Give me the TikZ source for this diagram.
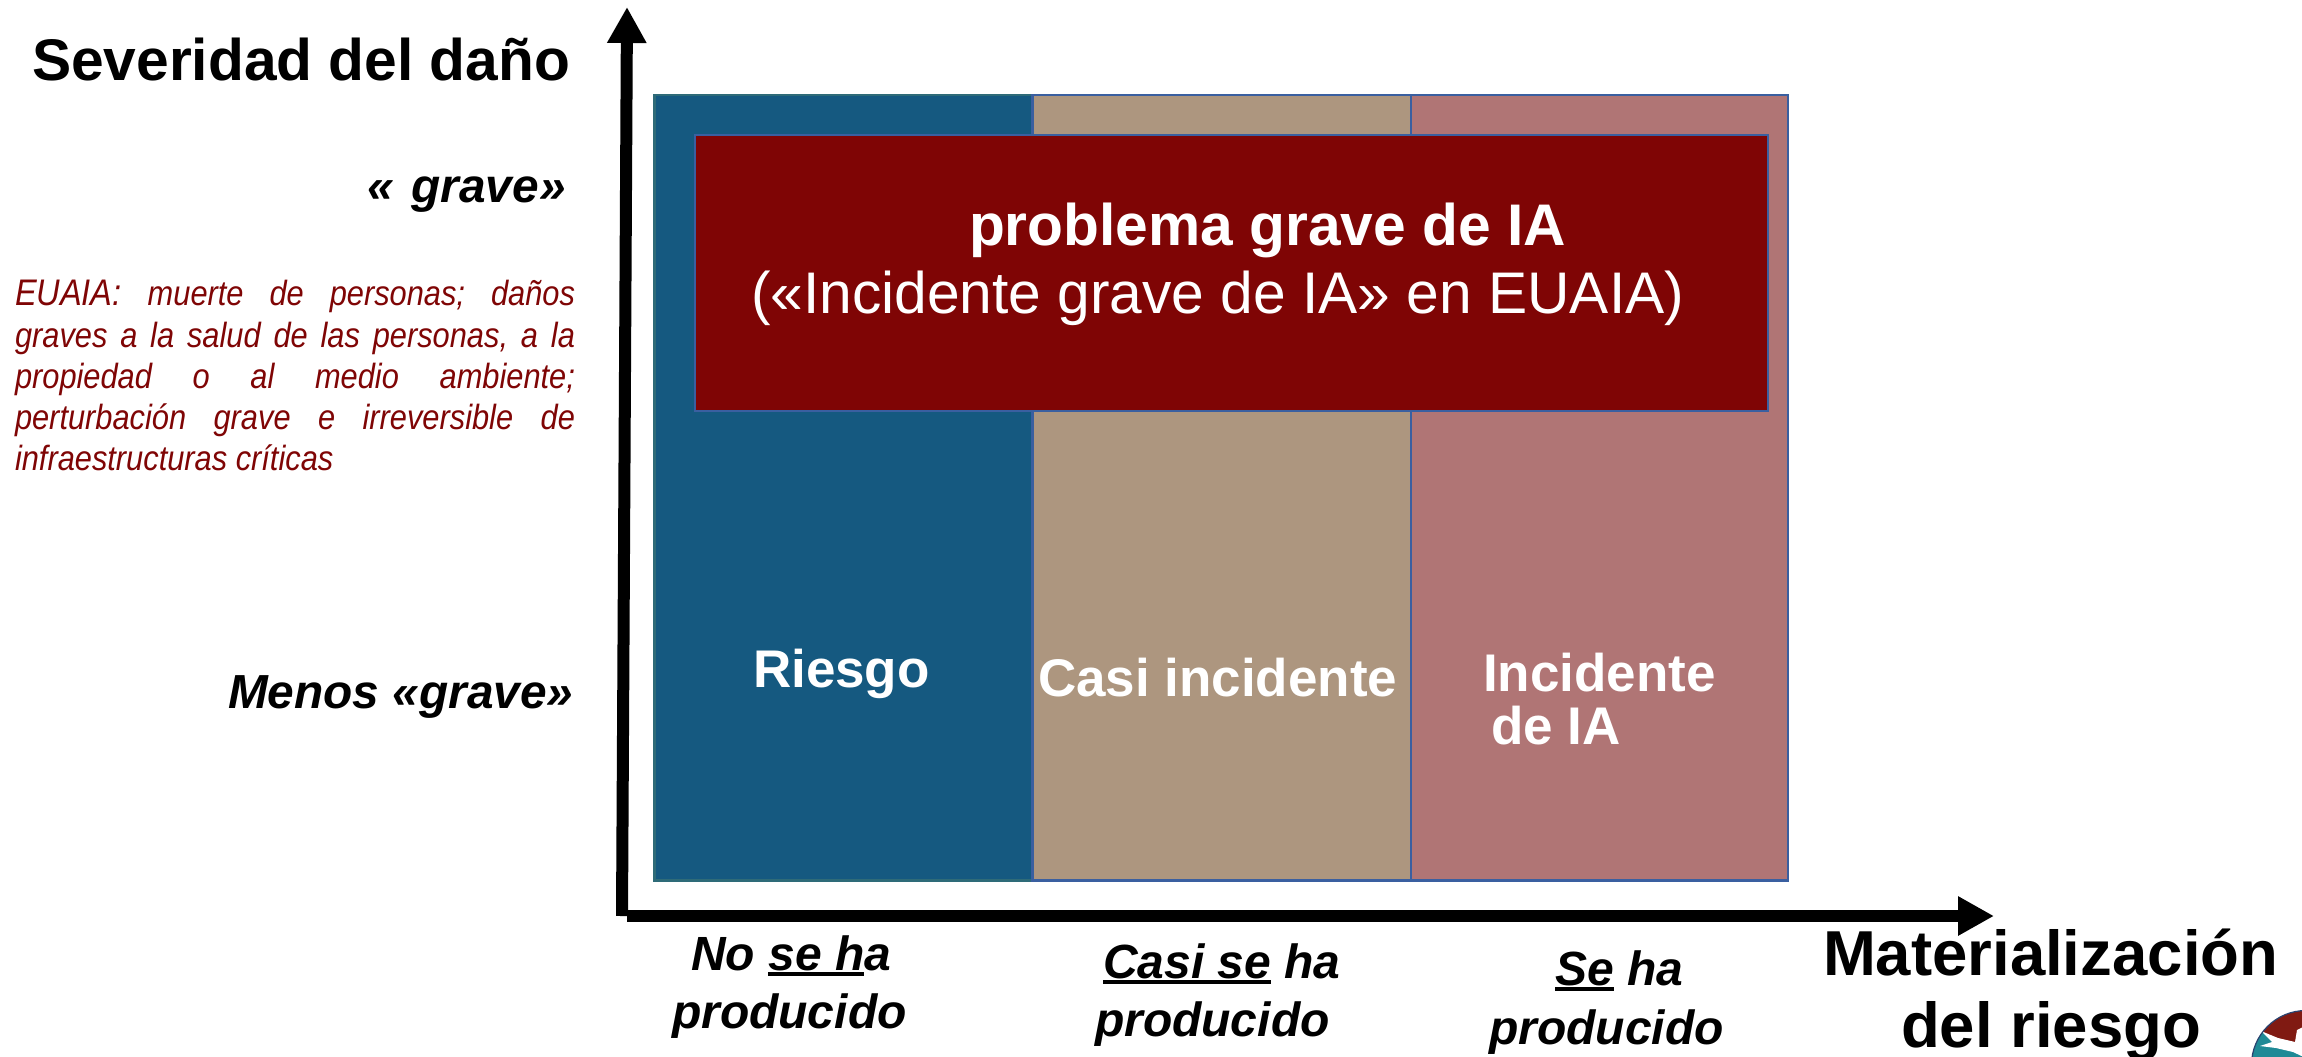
\documentclass[tikz,border=0pt]{standalone}
\usepackage{fontspec}
\usetikzlibrary{arrows.meta}
\setmainfont{Liberation Sans}
\newfontfamily\narrowfont[FakeStretch=0.88]{Liberation Sans}
\definecolor{cblue}{HTML}{155980}
\definecolor{cbeige}{HTML}{AD967F}
\definecolor{crose}{HTML}{B07575}
\definecolor{cred}{HTML}{7F0505}
\definecolor{bteal}{HTML}{2E6B78}
\definecolor{bblue}{HTML}{3A5FA0}
\definecolor{lteal}{HTML}{1F8A96}
\definecolor{lred}{HTML}{801A12}
\newcommand{\fsz}[1]{\fontsize{#1}{#1}\selectfont}
\newcommand{\ulw}[1]{\leavevmode\setbox0\hbox{#1}\rlap{\rule[-6pt]{\wd0}{3.6pt}}\box0\relax}
\tikzset{
  panel/.style={draw=bblue,line width=2.8pt,anchor=north west,inner sep=0pt,outer sep=0pt},
  lab/.style={anchor=base west,inner sep=0pt,outer sep=0pt},
  title/.style={lab,font=\fsz{58.7}\bfseries},
  axlab/.style={lab,font=\fsz{63.5}\bfseries},
  levlab/.style={lab,font=\fsz{47.8}\bfseries\itshape},
  xlab/.style={lab,font=\fsz{48}\bfseries\itshape},
  inlab/.style={lab,text=white,font=\fsz{53}\bfseries},
  note/.style={lab,text=cred,font=\narrowfont\fsz{35}\itshape},
  axis/.style={line width=12pt,-{Triangle[length=36pt,width=37pt]}},
}
\begin{document}
\begin{tikzpicture}[x=1pt,y=-1pt]
\useasboundingbox (0,0) rectangle (2302,1057);
% panels
\node[panel,fill=cblue,draw=bteal,minimum width=378pt,minimum height=785.5pt] (riesgo) at (654.5,95) {};
\node[panel,fill=cbeige,minimum width=379pt,minimum height=785.5pt] (casi) at (1032.5,95) {};
\node[panel,fill=crose,minimum width=377pt,minimum height=785.5pt] (inc) at (1411,95) {};
\node[panel,fill=cred,minimum width=1073pt,minimum height=276pt] (grave) at (695,135) {};
% axes
\coordinate (vstart) at (622,916);
\coordinate (vend) at (627,7);
\coordinate (hstart) at (627,916);
\coordinate (hend) at (1994,916);
\draw[axis] (vstart) -- (vend);
\draw[axis] (hstart) -- (hend);
% titles
\node[title] (sev) at (32,80.5) {Severidad del daño};
\node[axlab] (mat) at (1823,975) {Materialización};
\node[axlab] (delr) at (1901,1047) {del riesgo};
% severity labels
\node[levlab] (gr) at (367,202) {«\hspace{18pt}grave»};
\node[levlab] (menos) at (228,708) {Menos «grave»};
% note
\node[note] (n1) at (15,305) {\hbox to 560pt{{\fsz{37}EUAIA:}\hfill muerte\hfill de\hfill personas;\hfill daños}};
\node[note] (n2) at (15,347) {\hbox to 560pt{graves\hfill a\hfill la\hfill salud\hfill de\hfill las\hfill personas,\hfill a\hfill la}};
\node[note] (n3) at (15,388) {\hbox to 560pt{propiedad\hfill o\hfill al\hfill medio\hfill ambiente;}};
\node[note] (n4) at (15,429) {\hbox to 560pt{perturbación\hfill grave\hfill e\hfill irreversible\hfill de}};
\node[note] (n5) at (15,470) {infraestructuras críticas};
% inner labels
\node[lab,text=white,font=\fsz{58.7}\bfseries] (pg) at (969,245.5) {problema grave de IA};
\node[lab,text=white,font=\fsz{58.7}] (pg2) at (751,313) {(«Incidente grave de IA» en EUAIA)};
\node[inlab] (t1) at (753,687) {Riesgo};
\node[inlab] (t2) at (1038,696) {Casi incidente};
\node[inlab] (t3) at (1483,691) {Incidente};
\node[inlab] (t4) at (1491,744) {de IA};
% x labels
\node[xlab] (x1a) at (691,970) {No \ulw{se h}a};
\node[xlab] (x1b) at (672,1028) {producido};
\node[xlab] (x2a) at (1103,978) {\ulw{Casi se} ha};
\node[xlab] (x2b) at (1095,1036) {producido};
\node[xlab] (x3a) at (1555,985) {\ulw{Se} ha};
\node[xlab] (x3b) at (1489,1044) {producido};
% logo
\begin{scope}
\clip (0,0) rectangle (2302,1057);
\begin{scope}
\clip (2306,1065) circle[radius=54.5];
\fill[lred] (2240,1000) rectangle (2320,1070);
\fill[lteal] (2240,1070) -- (2240,1024) -- (2262,1032) -- (2302,1052) -- (2320,1052) -- (2320,1130) -- (2240,1130) -- cycle;
\fill[white] (2261,1031) -- (2278,1038) -- (2295,1042) -- (2297,1030) -- (2303,1027) -- (2310,1060) -- (2293,1052) -- (2276,1048) -- (2260,1046) -- (2272,1042) -- cycle;
\end{scope}
\draw[bblue!70!black,line width=1.2pt] (2306,1065) circle[radius=54.5];
\end{scope}
\end{tikzpicture}
\end{document}
